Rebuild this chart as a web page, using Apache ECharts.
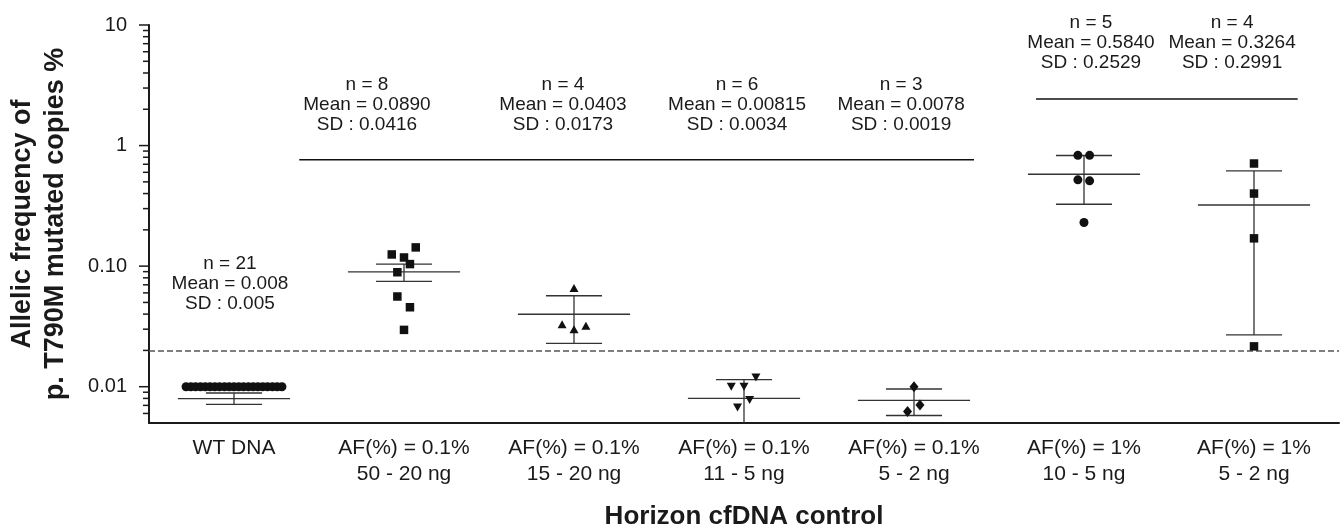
<!DOCTYPE html>
<html>
<head>
<meta charset="utf-8">
<title>T790M allelic frequency</title>
<script src="https://cdn.jsdelivr.net/npm/echarts@6.0.0/dist/echarts.min.js"></script>
<style>
  html, body { margin: 0; padding: 0; background: #fff; }
  #chart { width: 1340px; height: 529px; }
</style>
</head>
<body>
<div id="chart"></div>
<script>
// groups (x axis)
const categories = [
    'WT DNA',
    'AF(%) = 0.1%\n50 - 20 ng',
    'AF(%) = 0.1%\n15 - 20 ng',
    'AF(%) = 0.1%\n11 - 5 ng',
    'AF(%) = 0.1%\n5 - 2 ng',
    'AF(%) = 1%\n10 - 5 ng',
    'AF(%) = 1%\n5 - 2 ng'
];
const symbols = ['circle', 'rect', 'triangle', 'invTriangle', 'diamond', 'circle', 'rect'];

// individual measurements, AF %
const points = [
    [0.01, 0.01, 0.01, 0.01, 0.01, 0.01, 0.01, 0.01, 0.01, 0.01, 0.01,
     0.01, 0.01, 0.01, 0.01, 0.01, 0.01, 0.01, 0.01, 0.01, 0.01],
    [0.125, 0.118, 0.143, 0.104, 0.089, 0.056, 0.0456, 0.0296],
    [0.066, 0.033, 0.030, 0.032],
    [0.01195, 0.01, 0.01, 0.00775, 0.00673],
    [0.01, 0.00705, 0.00623],
    [0.83, 0.83, 0.52, 0.51, 0.23],
    [0.71, 0.40, 0.17, 0.0216]
];
// horizontal scatter of the dots inside each group (category units)
const jitter = [
    [-0.282, -0.254, -0.226, -0.197, -0.169, -0.141, -0.113, -0.085, -0.056, -0.028, 0,
     0.028, 0.056, 0.085, 0.113, 0.141, 0.169, 0.197, 0.226, 0.254, 0.282],
    [-0.072, 0, 0.069, 0.035, -0.039, -0.039, 0.035, 0],
    [0, -0.07, 0, 0.07],
    [0.07, -0.075, 0, 0.033, -0.038],
    [0, 0.035, -0.038],
    [-0.036, 0.033, -0.036, 0.033, 0],
    [0, 0, 0, 0]
];

// mean line and error bar ends
const means   = [0.00795, 0.0895, 0.0399, 0.0080, 0.00769, 0.578, 0.3215];
const barLow  = [0.00713, 0.0747, 0.0229, 0.0047, 0.00577, 0.326, 0.0269];
const barHigh = [0.00887, 0.104, 0.0568, 0.01144, 0.00957, 0.827, 0.616];

// annotation texts
const nLabels    = ['21', '8', '4', '6', '3', '5', '4'];
const meanLabels = ['0.008', '0.0890', '0.0403', '0.00815', '0.0078', '0.5840', '0.3264'];
const sdLabels   = ['0.005', '0.0416', '0.0173', '0.0034', '0.0019', '0.2529', '0.2991'];

// grouping lines: [from, to, level]
const brackets = [[0.384, 4.353, 0.762], [4.718, 6.257, 2.43]];
const cutoff = 0.02;

// y axis ticks
const majorTicks = [0.01, 0.1, 1, 10];
const minorTicks = [0.006, 0.007, 0.008, 0.009,
    0.02, 0.03, 0.04, 0.05, 0.06, 0.07, 0.08, 0.09,
    0.2, 0.3, 0.4, 0.5, 0.6, 0.7, 0.8, 0.9,
    2, 3, 4, 5, 6, 7, 8, 9];

const FONT = '"Liberation Sans", Arial, sans-serif';
const INK = '#1a1a1a';

// where the text blocks sit (x in category units, y in data units)
const noteX = [-0.024, 0.782, 1.935, 2.959, 3.924, 5.041, 5.871];
const noteY = [0.0711, 2.2, 2.2, 2.2, 2.2, 7.06, 7.06];

let chart = echarts.init(document.getElementById('chart'), null, {renderer: 'canvas'});

let shapes = {
    invTriangle: 'path://M0,0 L10,0 L5,9 Z'
};

let series = [];

// scatter dots
for (let g = 0; g < points.length; g++) {
    let d = [];
    for (let k = 0; k < points[g].length; k++) {
        d.push([g + jitter[g][k], points[g][k]]);
    }
    let sym = shapes[symbols[g]] || symbols[g];
    let size = 9;
    if (symbols[g] === 'rect') size = 8.5;
    if (symbols[g] === 'diamond') size = [9, 11];
    if (symbols[g] === 'triangle') size = [9, 8];
    if (symbols[g] === 'invTriangle') size = [9, 8];
    series.push({
        type: 'scatter',
        xAxisIndex: 1,
        yAxisIndex: 0,
        symbol: sym,
        symbolSize: size,
        itemStyle: {color: '#111', opacity: 1},
        silent: true,
        z: 5,
        data: d
    });
}

// mean + error bars
let barData = [];
for (let g = 0; g < means.length; g++) {
    barData.push([g, means[g], barLow[g], barHigh[g]]);
}
const meanHalf = 0.33, capHalf = 0.165;
series.push({
    type: 'custom',
    xAxisIndex: 1,
    yAxisIndex: 0,
    clip: true,
    silent: true,
    z: 3,
    encode: {x: 0, y: 1},
    data: barData,
    renderItem: function (params, api) {
        let g = api.value(0), m = api.value(1), lo = api.value(2), hi = api.value(3);
        let st = {stroke: '#333', lineWidth: 1.3};
        let seg = function (a, b) {
            return {type: 'line', shape: {x1: a[0], y1: a[1], x2: b[0], y2: b[1]}, style: st};
        };
        return {
            type: 'group',
            children: [
                seg(api.coord([g - meanHalf, m]), api.coord([g + meanHalf, m])),
                seg(api.coord([g, lo]), api.coord([g, hi])),
                seg(api.coord([g - capHalf, hi]), api.coord([g + capHalf, hi])),
                seg(api.coord([g - capHalf, lo]), api.coord([g + capHalf, lo]))
            ]
        };
    }
});

// grouping lines
brackets.forEach(function (b) {
    series.push({
        type: 'line',
        xAxisIndex: 1,
        yAxisIndex: 0,
        symbol: 'none',
        silent: true,
        lineStyle: {color: '#111', width: 1.5},
        data: [[b[0], b[2]], [b[1], b[2]]]
    });
});

// dashed cut-off line
series.push({
    type: 'line',
    xAxisIndex: 1,
    yAxisIndex: 0,
    data: [],
    markLine: {
        silent: true,
        symbol: 'none',
        label: {show: false},
        lineStyle: {color: '#555', width: 1.5, type: [6, 3]},
        data: [{yAxis: cutoff}]
    }
});

// text blocks above each group
let noteData = [];
for (let g = 0; g < nLabels.length; g++) {
    noteData.push([noteX[g], noteY[g]]);
}
series.push({
    type: 'scatter',
    xAxisIndex: 1,
    yAxisIndex: 0,
    symbolSize: 0,
    silent: true,
    itemStyle: {opacity: 1},
    data: noteData,
    label: {
        show: true,
        position: 'inside',
        color: INK,
        opacity: 1,
        fontFamily: FONT,
        fontSize: 19,
        lineHeight: 20,
        formatter: function (p) {
            let g = p.dataIndex;
            return 'n = ' + nLabels[g] + '\nMean = ' + meanLabels[g] + '\nSD : ' + sdLabels[g];
        }
    }
});

// y axis ticks (major and minor), drawn on the left of the axis
let tickData = [];
majorTicks.forEach(function (v) { tickData.push([-0.5, v, 10]); });
minorTicks.forEach(function (v) { tickData.push([-0.5, v, 6]); });
series.push({
    type: 'custom',
    xAxisIndex: 1,
    yAxisIndex: 0,
    silent: true,
    clip: false,
    encode: {x: 0, y: 1},
    data: tickData,
    renderItem: function (params, api) {
        let p = api.coord([api.value(0), api.value(1)]);
        let len = api.value(2);
        return {
            type: 'line',
            shape: {x1: p[0] - len, y1: p[1], x2: p[0], y2: p[1]},
            style: {stroke: INK, lineWidth: 1.5}
        };
    }
});

const option = {
    animation: false,
    backgroundColor: '#fff',
    textStyle: {fontFamily: FONT},
    grid: {
        left: 149,
        right: 1,
        top: 25,
        bottom: 106,
        containLabel: false,
        outerBoundsMode: 'none'
    },
    xAxis: [
        {
            type: 'category',
            data: categories,
            boundaryGap: true,
            axisLine: {lineStyle: {color: INK, width: 2}},
            axisTick: {alignWithLabel: true, length: 10, lineStyle: {color: INK, width: 1.5}},
            axisLabel: {
                interval: 0,
                color: INK,
                fontFamily: FONT,
                fontSize: 21,
                lineHeight: 26,
                margin: 12
            },
            splitLine: {show: false},
            name: 'Horizon cfDNA control',
            nameLocation: 'middle',
            nameGap: 81,
            nameTextStyle: {color: INK, fontFamily: FONT, fontSize: 26, fontWeight: 'bold'}
        },
        {
            type: 'value',
            min: -0.5,
            max: 6.5,
            show: false
        }
    ],
    yAxis: [
        {
            type: 'log',
            logBase: 10,
            min: 0.005,
            max: 10,
            axisLine: {show: true, onZero: false, lineStyle: {color: INK, width: 2}},
            axisTick: {show: false},
            splitLine: {show: false},
            axisLabel: {
                showMinLabel: false,
                color: INK,
                fontFamily: FONT,
                fontSize: 20,
                margin: 22,
                formatter: function (v) {
                    if (v >= 1) return String(Math.round(v));
                    return v.toFixed(2);
                }
            },
            name: 'Allelic frequency of\np. T790M mutated copies %',
            nameLocation: 'middle',
            nameGap: 77,
            nameTextStyle: {
                color: INK,
                fontFamily: FONT,
                fontSize: 27,
                fontWeight: 'bold',
                lineHeight: 33
            }
        }
    ],
    series: series
};

chart.setOption(option);
</script>
</body>
</html>
